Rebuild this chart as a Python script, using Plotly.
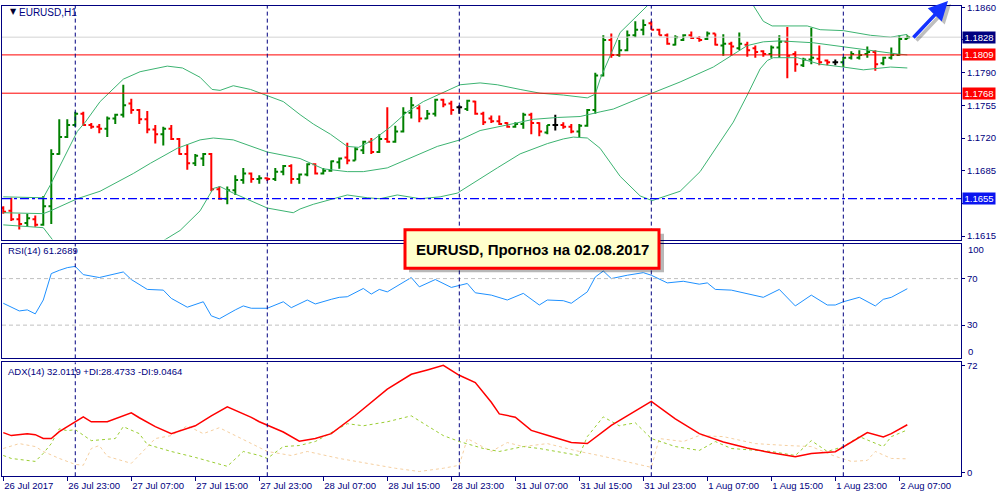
import plotly.graph_objects as go

# ---------------- data ----------------
bar_index = list(range(114))
opens = [1.1645,1.1642,1.1633,1.1629,1.1633,1.1627,1.1647,1.1703,1.1721,1.1734,
         1.1746,1.1734,1.1732,1.1730,1.1741,1.1745,1.1757,1.1750,1.1740,1.1729,
         1.1724,1.1730,1.1719,1.1703,1.1693,1.1698,1.1703,1.1665,1.1655,1.1664,
         1.1675,1.1682,1.1676,1.1677,1.1676,1.1684,1.1690,1.1676,1.1681,1.1692,
         1.1682,1.1685,1.1694,1.1699,1.1696,1.1707,1.1716,1.1705,1.1719,1.1716,
         1.1727,1.1747,1.1752,1.1741,1.1746,1.1761,1.1757,1.1753,1.1751,1.1759,
         1.1746,1.1741,1.1738,1.1736,1.1732,1.1735,1.1745,1.1736,1.1726,1.1734,
         1.1734,1.1732,1.1727,1.1733,1.1750,1.1787,1.1825,1.1809,1.1814,1.1830,
         1.1836,1.1843,1.1836,1.1830,1.1820,1.1825,1.1830,1.1827,1.1826,1.1832,
         1.1819,1.1821,1.1816,1.1820,1.1816,1.1813,1.1810,1.1817,1.1823,1.1810,
         1.1798,1.1804,1.1805,1.1803,1.1801,1.1801,1.1806,1.1806,1.1810,1.1812,
         1.1800,1.1806,1.1809,1.1826]
highs = [1.1647,1.1656,1.1639,1.1639,1.1637,1.1658,1.1708,1.1740,1.1740,1.1748,
         1.1748,1.1736,1.1735,1.1743,1.1746,1.1777,1.1762,1.1751,1.1749,1.1734,
         1.1732,1.1734,1.1720,1.1713,1.1703,1.1704,1.1704,1.1668,1.1668,1.1680,
         1.1688,1.1683,1.1680,1.1678,1.1688,1.1691,1.1692,1.1682,1.1693,1.1693,
         1.1688,1.1696,1.1699,1.1715,1.1710,1.1717,1.1720,1.1724,1.1753,1.1733,
         1.1753,1.1764,1.1755,1.1750,1.1762,1.1762,1.1760,1.1755,1.1761,1.1760,
         1.1748,1.1744,1.1744,1.1737,1.1737,1.1747,1.1747,1.1737,1.1734,1.1745,
         1.1737,1.1735,1.1735,1.1751,1.1790,1.1830,1.1832,1.1825,1.1835,1.1845,
         1.1847,1.1845,1.1837,1.1832,1.1830,1.1831,1.1834,1.1829,1.1834,1.1832,
         1.1831,1.1823,1.1833,1.1823,1.1819,1.1814,1.1819,1.1830,1.1839,1.1813,
         1.1806,1.1838,1.1819,1.1804,1.1804,1.1807,1.1813,1.1814,1.1818,1.1814,
         1.1807,1.1817,1.1830,1.1830]
lows = [1.1639,1.1631,1.1622,1.1625,1.1625,1.1626,1.1628,1.1702,1.1720,1.1732,
        1.1733,1.1730,1.1725,1.1721,1.1735,1.1742,1.1746,1.1735,1.1725,1.1714,
        1.1712,1.1718,1.1702,1.1686,1.1690,1.1690,1.1663,1.1654,1.1649,1.1659,
        1.1671,1.1672,1.1671,1.1674,1.1674,1.1680,1.1671,1.1671,1.1679,1.1681,
        1.1681,1.1684,1.1687,1.1692,1.1696,1.1703,1.1703,1.1704,1.1715,1.1715,
        1.1726,1.1741,1.1737,1.1740,1.1743,1.1753,1.1745,1.1746,1.1749,1.1745,
        1.1734,1.1736,1.1734,1.1731,1.1731,1.1730,1.1724,1.1722,1.1724,1.1728,
        1.1730,1.1725,1.1721,1.1732,1.1746,1.1786,1.1806,1.1807,1.1813,1.1828,
        1.1830,1.1836,1.1830,1.1820,1.1819,1.1824,1.1826,1.1823,1.1825,1.1819,
        1.1808,1.1808,1.1814,1.1807,1.1806,1.1807,1.1806,1.1806,1.1784,1.1791,
        1.1796,1.1799,1.1798,1.1798,1.1798,1.1796,1.1804,1.1804,1.1806,1.1792,
        1.1798,1.1804,1.1808,1.1826]
closes = [1.1641,1.1633,1.1628,1.1634,1.1627,1.1647,1.1703,1.1721,1.1734,1.1746,
          1.1734,1.1732,1.1730,1.1741,1.1745,1.1755,1.1750,1.1740,1.1729,1.1724,
          1.1730,1.1719,1.1703,1.1693,1.1701,1.1703,1.1665,1.1655,1.1664,1.1675,
          1.1682,1.1676,1.1677,1.1676,1.1684,1.1690,1.1676,1.1681,1.1692,1.1682,
          1.1685,1.1695,1.1698,1.1696,1.1708,1.1716,1.1705,1.1719,1.1716,1.1727,
          1.1747,1.1755,1.1741,1.1746,1.1761,1.1756,1.1750,1.1753,1.1760,1.1746,
          1.1737,1.1738,1.1735,1.1732,1.1735,1.1745,1.1736,1.1727,1.1734,1.1734,
          1.1732,1.1727,1.1733,1.1750,1.1787,1.1825,1.1809,1.1814,1.1830,1.1836,
          1.1841,1.1836,1.1830,1.1821,1.1828,1.1830,1.1827,1.1825,1.1832,1.1820,
          1.1821,1.1818,1.1821,1.1814,1.1812,1.1810,1.1817,1.1823,1.1808,1.1799,
          1.1804,1.1806,1.1801,1.1801,1.1801,1.1806,1.1810,1.1809,1.1812,1.1799,
          1.1806,1.1809,1.1826,1.1828]

# Bollinger Bands (20)
bb_up_x = [0, 5, 5.9, 9.25, 10.25, 12.1, 15, 17.1, 20.5, 22.4, 24.6, 26.1, 27.1, 28.75, 30.9,
           35, 37.1, 38.75, 40.9, 43, 44.4, 46.25, 48.4, 50.5, 52.5, 54.6, 57.1, 59.6, 61.75,
           64.6, 67.1, 70, 73, 74, 74.6, 77.1, 79.6, 80.9, 84, 88, 91, 93.75, 95, 96.1,
           100.5, 102.1, 105, 108.4, 110.9, 112.1, 113]
bb_up_y = [1.1657, 1.1656, 1.1670, 1.1727, 1.1737, 1.1759, 1.1783, 1.1791, 1.1797, 1.1795,
           1.1785, 1.1772, 1.1771, 1.1776, 1.1772, 1.1759, 1.1745, 1.1735, 1.1724, 1.1711,
           1.1710, 1.1718, 1.1732, 1.1748, 1.1759, 1.1767, 1.1777, 1.1779, 1.1777, 1.1772,
           1.1768, 1.1766, 1.1763, 1.1767, 1.1783, 1.1833, 1.1854, 1.1865, 1.1882, 1.1890,
           1.1880, 1.1862, 1.1845, 1.1840, 1.1840, 1.1836, 1.1835, 1.1830, 1.1828, 1.1830,
           1.1831]
bb_mid_x = [0, 5, 5.9, 9.25, 12.1, 16.25, 18.4, 21.75, 24.6, 26.25, 28.75, 33, 37.1, 40, 43,
            45, 48, 51.25, 54.25, 57.1, 59.6, 63, 66.25, 69.25, 72.1, 74.6, 76.25, 80.5, 84.6,
            88.75, 93, 95, 97.1, 101.25, 103.75, 107.5, 111.75, 113]
bb_mid_y = [1.1640, 1.1639, 1.1642, 1.1655, 1.1663, 1.1682, 1.1693, 1.1709, 1.1718, 1.1720,
            1.1718, 1.1705, 1.1698, 1.1687, 1.1684, 1.1684, 1.1688, 1.1700, 1.1711, 1.1718,
            1.1728, 1.1734, 1.1740, 1.1742, 1.1743, 1.1748, 1.1751, 1.1766, 1.1780, 1.1796,
            1.1819, 1.1823, 1.1824, 1.1822, 1.1819, 1.1815, 1.1810, 1.1809]
bb_low_x = [0, 5, 6.25, 9, 13, 17, 20, 22.1, 24.6, 26.25, 27.1, 28.75, 33, 36.25, 37.1, 38.75,
            43, 45.5, 47.1, 49.25, 52.1, 54.6, 56.75, 58.75, 61.75, 64.6, 68, 70, 71.25, 73,
            74.6, 77.1, 79.6, 81.1, 84.6, 87.1, 91.25, 93, 94.6, 95.5, 96.25, 99.25, 102.1,
            105, 107.5, 110.9, 113]
bb_low_y = [1.1627, 1.1624, 1.1610, 1.1590, 1.1576, 1.1590, 1.1610, 1.1621, 1.1642, 1.1666,
            1.1668, 1.1661, 1.1645, 1.1640, 1.1644, 1.1649, 1.1659, 1.1656, 1.1655, 1.1659,
            1.1655, 1.1657, 1.1661, 1.1672, 1.1688, 1.1703, 1.1714, 1.1719, 1.1721, 1.1720,
            1.1709, 1.1679, 1.1658, 1.1653, 1.1663, 1.1684, 1.1737, 1.1766, 1.1794, 1.1803,
            1.1806, 1.1806, 1.1799, 1.1796, 1.1793, 1.1796, 1.1795]

# RSI(14)
rsi_x = [0,2,3,4,5,6,7,8,9,10,12,14,15,16,18,20,21,23,25,26,27,29,30,31,33,35,36,38,39,41,
         42,43,45,46,47,48,51,52,53,54,56,58,59,61,63,65,67,68,70,71,73,74,75,76,78,80,81,83,
         85,87,88,89,91,95,97,99,101,103,104,105,107,109,110,111,113]
rsi_y = [48.8,42.2,43.1,39.7,51.6,74.3,77.1,79.4,80.5,73.4,70.9,74.3,75.7,69.2,60.7,60.1,53.0,
         45.4,50.1,38.0,35.4,43.1,46.5,44.5,44.5,50.1,45.0,51.6,48.2,52.2,53.9,54.4,61.5,56.7,
         60.7,58.6,70.9,62.9,65.8,69.2,62.4,65.8,57.8,55.8,51.6,57.3,47.3,51.6,51.0,48.8,58.6,
         71.4,76.5,70.0,72.9,75.1,72.9,66.3,67.7,65.2,66.3,60.7,60.1,53.9,60.7,46.5,55.8,47.3,
         47.3,50.1,53.9,46.5,52.2,53.9,61.3]

# ADX(14), +DI, -DI
adx_x = [0,1,3,4,5,6,7,9,10,11,13,16,17,19,21,24,26,28,31,32,35,37,39,41,44,48,51,53,55,57,
         59,61,62,64,66,68,71,73,76,81,84,87,90,93,96,99,101,104,106,108,110,111,113]
adx_y = [26.7,24.7,26,25.3,22.7,22.7,27.3,34,37.3,34,34,40,36.7,30.7,26,31.3,38,44,37,34,
         27.1,20.9,22.7,26,38.2,56,66,68.9,72,65.3,60.4,47.1,39.3,37.1,28.2,24.9,20,19.3,31.5,
         47.8,36,26,20.4,16.4,13.1,10.4,12.7,13.8,20.4,26.7,23.8,26,32.0]
pdi_x = [0,1,4,5,6,7,8,9,11,14,15,17,18,21,24,28,30,32,33,35,37,39,43,45,48,51,53,55,57,60,
         62,65,67,69,72,73,75,77,79,81,84,87,89,91,96,99,101,103,105,107,110,111,113]
pdi_y = [11.3,9.3,7.3,12.7,19.3,29.3,28,28.7,21.3,22.7,30.7,26,18.7,14,10,4,14,11.3,9.3,17.3,
         18,20.7,32.7,31.3,34,38,31.3,24.7,20.7,16,14,17.3,16,14,11.3,24,37.3,31.3,33.3,22.7,
         17.3,14.7,20.7,16,14,11.3,21.3,14,17.3,24,17.3,24,28.5]
mdi_x = [0,2,4,5,7,9,10,11,12,13,16,19,21,23,25,27,29,32,33,36,38,42,49,52,55,57,58,61,63,65,
         68,72,75,81,82,85,87,90,94,98,101,104,106,108,109,111,113]
mdi_y = [16,19.3,17.3,14,9.3,5.3,4.7,16,18,10.7,6,22.7,24.7,31.3,26,30,24.7,16.7,14,11.3,14,
         9.3,2.7,0.5,2.7,4.7,22.7,14,20,17.3,19.3,14,10.7,3.3,22.7,20.7,24.7,24,19.3,18,17.3,
         10.7,7.3,8,14,9.3,9.05]

# levels / labels
price_ticks = [1.1615, 1.1650, 1.1685, 1.1720, 1.1755, 1.1790, 1.1825, 1.1860]
price_tick_text = ["1.1615", "", "1.1685", "1.1720", "1.1755", "1.1790", "", "1.1860"]
time_tick_bars = [0, 8, 16, 24, 32, 40, 48, 56, 64, 72, 80, 88, 96, 104, 112]
time_tick_text = ["26 Jul 2017", "26 Jul 23:00", "27 Jul 07:00", "27 Jul 15:00", "27 Jul 23:00",
                  "28 Jul 07:00", "28 Jul 15:00", "28 Jul 23:00", "31 Jul 07:00", "31 Jul 15:00",
                  "31 Jul 23:00", "1 Aug 07:00", "1 Aug 15:00", "1 Aug 23:00", "2 Aug 07:00"]
day_separators = [9, 33, 57, 81, 105]
red_levels = [1.1809, 1.1768]
support_level = 1.1655
bid_level = 1.1828
rsi_levels = [70, 30]

NAVY = "#000080"
FONT = "Liberation Sans"

fig = go.Figure()

# Bollinger bands
for bx, by in [(bb_up_x, bb_up_y), (bb_mid_x, bb_mid_y), (bb_low_x, bb_low_y)]:
    fig.add_trace(go.Scatter(x=bx, y=by, mode="lines", line=dict(color="#3CB371", width=1),
                             xaxis="x", yaxis="y", hoverinfo="skip", showlegend=False))

# bars
nd = [i for i in bar_index if opens[i] != closes[i]]
dj = [i for i in bar_index if opens[i] == closes[i]]
fig.add_trace(go.Ohlc(x=nd, open=[opens[i] for i in nd], high=[highs[i] for i in nd],
                      low=[lows[i] for i in nd], close=[closes[i] for i in nd],
                      increasing=dict(line=dict(color="#008000", width=2)),
                      decreasing=dict(line=dict(color="#FF0000", width=2)),
                      tickwidth=0.35, xaxis="x", yaxis="y", showlegend=False))
fig.add_trace(go.Ohlc(x=dj, open=[opens[i] for i in dj], high=[highs[i] for i in dj],
                      low=[lows[i] for i in dj], close=[closes[i] for i in dj],
                      increasing=dict(line=dict(color="#000000", width=2)),
                      decreasing=dict(line=dict(color="#000000", width=2)),
                      tickwidth=0.35, xaxis="x", yaxis="y", showlegend=False))

# RSI
fig.add_trace(go.Scatter(x=rsi_x, y=rsi_y, mode="lines", line=dict(color="#1E90FF", width=1),
                         xaxis="x2", yaxis="y2", showlegend=False))
# ADX
fig.add_trace(go.Scatter(x=mdi_x, y=mdi_y, mode="lines",
                         line=dict(color="#F5CFA0", width=1, dash="dot"),
                         xaxis="x3", yaxis="y3", showlegend=False))
fig.add_trace(go.Scatter(x=pdi_x, y=pdi_y, mode="lines",
                         line=dict(color="#9ACD32", width=1, dash="3px,3px"),
                         xaxis="x3", yaxis="y3", showlegend=False))
fig.add_trace(go.Scatter(x=adx_x, y=adx_y, mode="lines", line=dict(color="#FF0000", width=1.5),
                         xaxis="x3", yaxis="y3", showlegend=False))

shapes = []
# horizontal levels
shapes.append(dict(type="line", xref="x domain", yref="y", x0=0, x1=1, y0=bid_level, y1=bid_level,
                   line=dict(color="#D3D3D3", width=1)))
for lv in red_levels:
    shapes.append(dict(type="line", xref="x domain", yref="y", x0=0, x1=1, y0=lv, y1=lv,
                       line=dict(color="#FF0000", width=1)))
shapes.append(dict(type="line", xref="x domain", yref="y", x0=0, x1=1, y0=support_level,
                   y1=support_level, line=dict(color="#0000FF", width=1.2, dash="dashdot")))
for lv in rsi_levels:
    shapes.append(dict(type="line", xref="x2 domain", yref="y2", x0=0, x1=1, y0=lv, y1=lv,
                       line=dict(color="#C0C0C0", width=1, dash="4px,3px")))
# day separators
for d in day_separators:
    for yr in ["y domain", "y2 domain", "y3 domain"]:
        shapes.append(dict(type="line", xref="x", yref=yr, x0=d, x1=d, y0=0, y1=1,
                           line=dict(color=NAVY, width=1, dash="4px,3px")))
# forecast box with shadow
shapes.append(dict(type="rect", xref="paper", yref="paper", x0=0.409, x1=0.664, y0=0.456, y1=0.534,
                   fillcolor="rgba(0,0,0,0.28)", line=dict(width=0), layer="above"))
shapes.append(dict(type="rect", xref="paper", yref="paper", x0=0.405, x1=0.659, y0=0.464, y1=0.542,
                   fillcolor="#FFFFCC", line=dict(color="#FF0000", width=3), layer="above"))

annotations = []
annotations.append(dict(xref="paper", yref="paper", x=0.008, y=0.982, text="▼", showarrow=False,
                        font=dict(family="DejaVu Sans", size=8, color="#000030"),
                        xanchor="left", yanchor="middle"))
annotations.append(dict(xref="paper", yref="paper", x=0.017, y=0.981, text="EURUSD,H1",
                        showarrow=False, font=dict(family=FONT, size=10, color=NAVY),
                        xanchor="left", yanchor="middle"))
annotations.append(dict(xref="paper", yref="paper", x=0.006, y=0.5, text="RSI(14) 61.2689",
                        showarrow=False, font=dict(family=FONT, size=9.5, color=NAVY),
                        xanchor="left", yanchor="middle"))
annotations.append(dict(xref="paper", yref="paper", x=0.006, y=0.256,
                        text="ADX(14) 32.0119 +DI:28.4733 -DI:9.0464",
                        showarrow=False, font=dict(family=FONT, size=9.5, color=NAVY),
                        xanchor="left", yanchor="middle"))
annotations.append(dict(xref="paper", yref="paper", x=0.532, y=0.503,
                        text="<b>EURUSD, Прогноз на 02.08.2017</b>", showarrow=False,
                        font=dict(family=FONT, size=15, color="#000000"),
                        xanchor="center", yanchor="middle"))
# price tags
for val, bg in [(bid_level, NAVY), (red_levels[0], "#FF0000"), (red_levels[1], "#FF0000"),
                (support_level, "#0A14F0")]:
    annotations.append(dict(xref="paper", yref="y", x=0.962, y=val, text=f"{val:.4f}",
                            showarrow=False, bgcolor=bg, font=dict(family=FONT, size=9.5, color="white"),
                            xanchor="left", yanchor="middle", width=31, height=10, borderpad=0.5,
                            align="center"))
# RSI edge labels
annotations.append(dict(xref="paper", yref="y2 domain", x=0.966, y=0.95, text="100", showarrow=False,
                        font=dict(family=FONT, size=9.5, color=NAVY), xanchor="left", yanchor="middle"))
annotations.append(dict(xref="paper", yref="y2 domain", x=0.966, y=0.06, text="0", showarrow=False,
                        font=dict(family=FONT, size=9.5, color=NAVY), xanchor="left", yanchor="middle"))
# arrow (shadow + arrow)
annotations.append(dict(xref="paper", yref="paper", x=0.951, y=0.998, ax=-36, ay=38,
                        text="", showarrow=True, arrowhead=2, arrowsize=1.1, arrowwidth=3.5,
                        arrowcolor="rgba(0,0,0,0.25)"))
annotations.append(dict(xref="paper", yref="paper", x=0.948, y=1.004, ax=-36, ay=38,
                        text="", showarrow=True, arrowhead=2, arrowsize=1.1, arrowwidth=3.5,
                        arrowcolor="#1432FF"))

xcommon = dict(range=[-0.16, 119.71], domain=[0.002, 0.961], showgrid=False, zeroline=False,
               showline=True, mirror=True, linecolor=NAVY, linewidth=1, fixedrange=True)
ycommon = dict(side="right", showgrid=False, zeroline=False, showline=True, mirror=True,
               linecolor=NAVY, linewidth=1, ticks="outside", ticklen=3, tickcolor=NAVY,
               tickfont=dict(family=FONT, size=9.5, color=NAVY), fixedrange=True)

fig.update_layout(
    width=1000, height=500, margin=dict(l=0, r=0, t=0, b=0),
    paper_bgcolor="white", plot_bgcolor="white", showlegend=False,
    xaxis=dict(**xcommon, anchor="y", showticklabels=False, rangeslider=dict(visible=False)),
    xaxis2=dict(**xcommon, anchor="y2", showticklabels=False, matches="x"),
    xaxis3=dict(**xcommon, anchor="y3", matches="x", tickvals=time_tick_bars, ticktext=time_tick_text,
                ticks="outside", ticklen=4, tickcolor=NAVY, ticklabelposition="outside right",
                tickfont=dict(family=FONT, size=9.5, color=NAVY)),
    yaxis=dict(**ycommon, anchor="x", domain=[0.522, 0.994], range=[1.16112, 1.18614],
               tickvals=price_ticks, ticktext=price_tick_text),
    yaxis2=dict(**ycommon, anchor="x2", domain=[0.282, 0.514], range=[1.4, 100.1],
                tickvals=rsi_levels, ticktext=[str(v) for v in rsi_levels]),
    yaxis3=dict(**ycommon, anchor="x3", domain=[0.044, 0.274], range=[-2.67, 74],
                tickvals=[72, 0], ticktext=["72", "0"]),
    shapes=shapes, annotations=annotations,
)

fig.write_html("out.html", config={"displayModeBar": False})
